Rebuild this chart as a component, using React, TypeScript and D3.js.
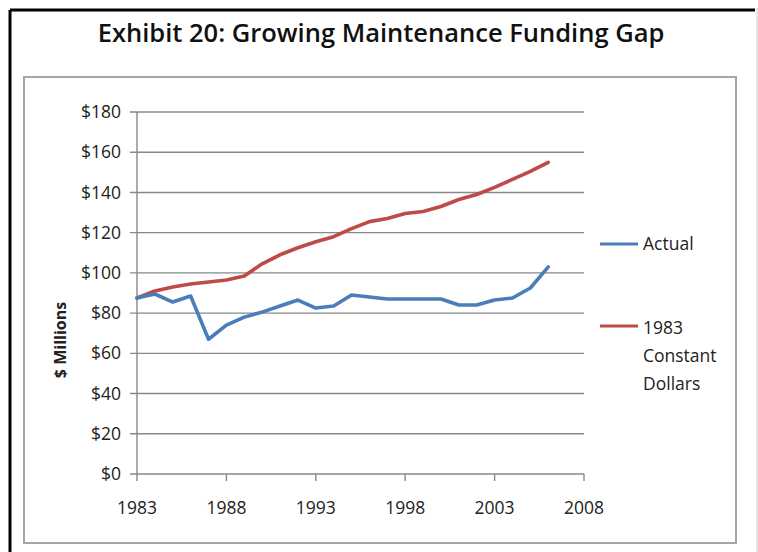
import React from "react";
import * as d3 from "d3";

const years = [1983,1984,1985,1986,1987,1988,1989,1990,1991,1992,1993,1994,1995,1996,1997,1998,1999,2000,2001,2002,2003,2004,2005,2006];
const actual = [87.5,89.5,85.5,88.5,67,74,78,80.5,83.5,86.5,82.5,83.5,89,88,87,87,87,87,84,84,86.5,87.5,92.5,103];
const constant1983 = [87.5,91,93,94.5,95.5,96.5,98.5,104.5,109,112.5,115.5,118,122,125.5,127,129.5,130.5,133,136.5,139,142.5,146.5,150.5,155];
const yTicks = [0,20,40,60,80,100,120,140,160,180];
const xTicks = [1983,1988,1993,1998,2003,2008];
const seriesNames = ["Actual", "1983 Constant Dollars"];
const title = "Exhibit 20: Growing Maintenance Funding Gap";

const W = 758, H = 552;
const BLUE = "#4a7ebb";
const RED = "#be4b48";
const FONT = "'Open Sans', Lato, sans-serif";

export default function App() {
  const x = d3.scaleLinear().domain([1983, 2008]).range([137, 584]);
  const y = d3.scaleLinear().domain([0, 180]).range([474, 112]);
  const line = d3.line<number>().x((_, i) => x(years[i])).y((d) => y(d));

  return (
    <svg width={W} height={H} style={{ position: "absolute", left: 0, top: 0, background: "#fff" }}>
      <rect x={0} y={0} width={W} height={H} fill="#fff" />
      {/* outer frame */}
      <line x1={10} y1={10} x2={755} y2={10} stroke="#000" strokeWidth={3} />
      <line x1={10} y1={10} x2={10} y2={552} stroke="#000" strokeWidth={3} />
      <line x1={757} y1={8} x2={757} y2={552} stroke="#ccc" strokeWidth={1} />
      <text x={381} y={42} textAnchor="middle" fontFamily={FONT} fontWeight={600} fontSize={25.5} fill="#111">{title}</text>
      {/* inner chart box */}
      <rect x={24} y={77} width={712} height={466} fill="none" stroke="#a6a6a6" strokeWidth={2} />
      {/* gridlines */}
      {yTicks.map((t) => (
        <g key={t}>
          <line x1={130} x2={x(2008)} y1={y(t)} y2={y(t)} stroke="#888" strokeWidth={1.4} />
          <text x={121} y={y(t)} dy="0.35em" textAnchor="end" fontFamily={FONT} fontSize={17.5} fill="#222">{`$${t}`}</text>
        </g>
      ))}
      <line x1={x(1983)} x2={x(1983)} y1={y(180)} y2={y(0)} stroke="#888" strokeWidth={1.4} />
      {xTicks.map((t) => (
        <g key={t}>
          <line x1={x(t)} x2={x(t)} y1={y(0)} y2={y(0) + 7} stroke="#888" strokeWidth={1.4} />
          <text x={x(t)} y={508} dy="0.35em" textAnchor="middle" fontFamily={FONT} fontSize={17.5} fill="#222">{t}</text>
        </g>
      ))}
      <text transform={`translate(66,${340}) rotate(-90)`} textAnchor="middle" fontFamily={FONT} fontWeight={700} fontSize={16} fill="#222">$ Millions</text>
      <path d={line(constant1983) || ""} fill="none" stroke={RED} strokeWidth={3.6} strokeLinejoin="round" strokeLinecap="round" />
      <path d={line(actual) || ""} fill="none" stroke={BLUE} strokeWidth={3.6} strokeLinejoin="round" strokeLinecap="round" />
      {/* legend */}
      <line x1={600} x2={638} y1={244} y2={244} stroke={BLUE} strokeWidth={3.2} />
      <text x={643} y={244} dy="0.35em" fontFamily={FONT} fontSize={17.5} fill="#222">{seriesNames[0]}</text>
      <line x1={600} x2={638} y1={326} y2={326} stroke={RED} strokeWidth={3.2} />
      <text fontFamily={FONT} fontSize={17.5} fill="#222">
        <tspan x={643} y={328} dy="0.35em">1983</tspan>
        <tspan x={643} y={356} dy="0.35em">Constant</tspan>
        <tspan x={643} y={384} dy="0.35em">Dollars</tspan>
      </text>
    </svg>
  );
}
